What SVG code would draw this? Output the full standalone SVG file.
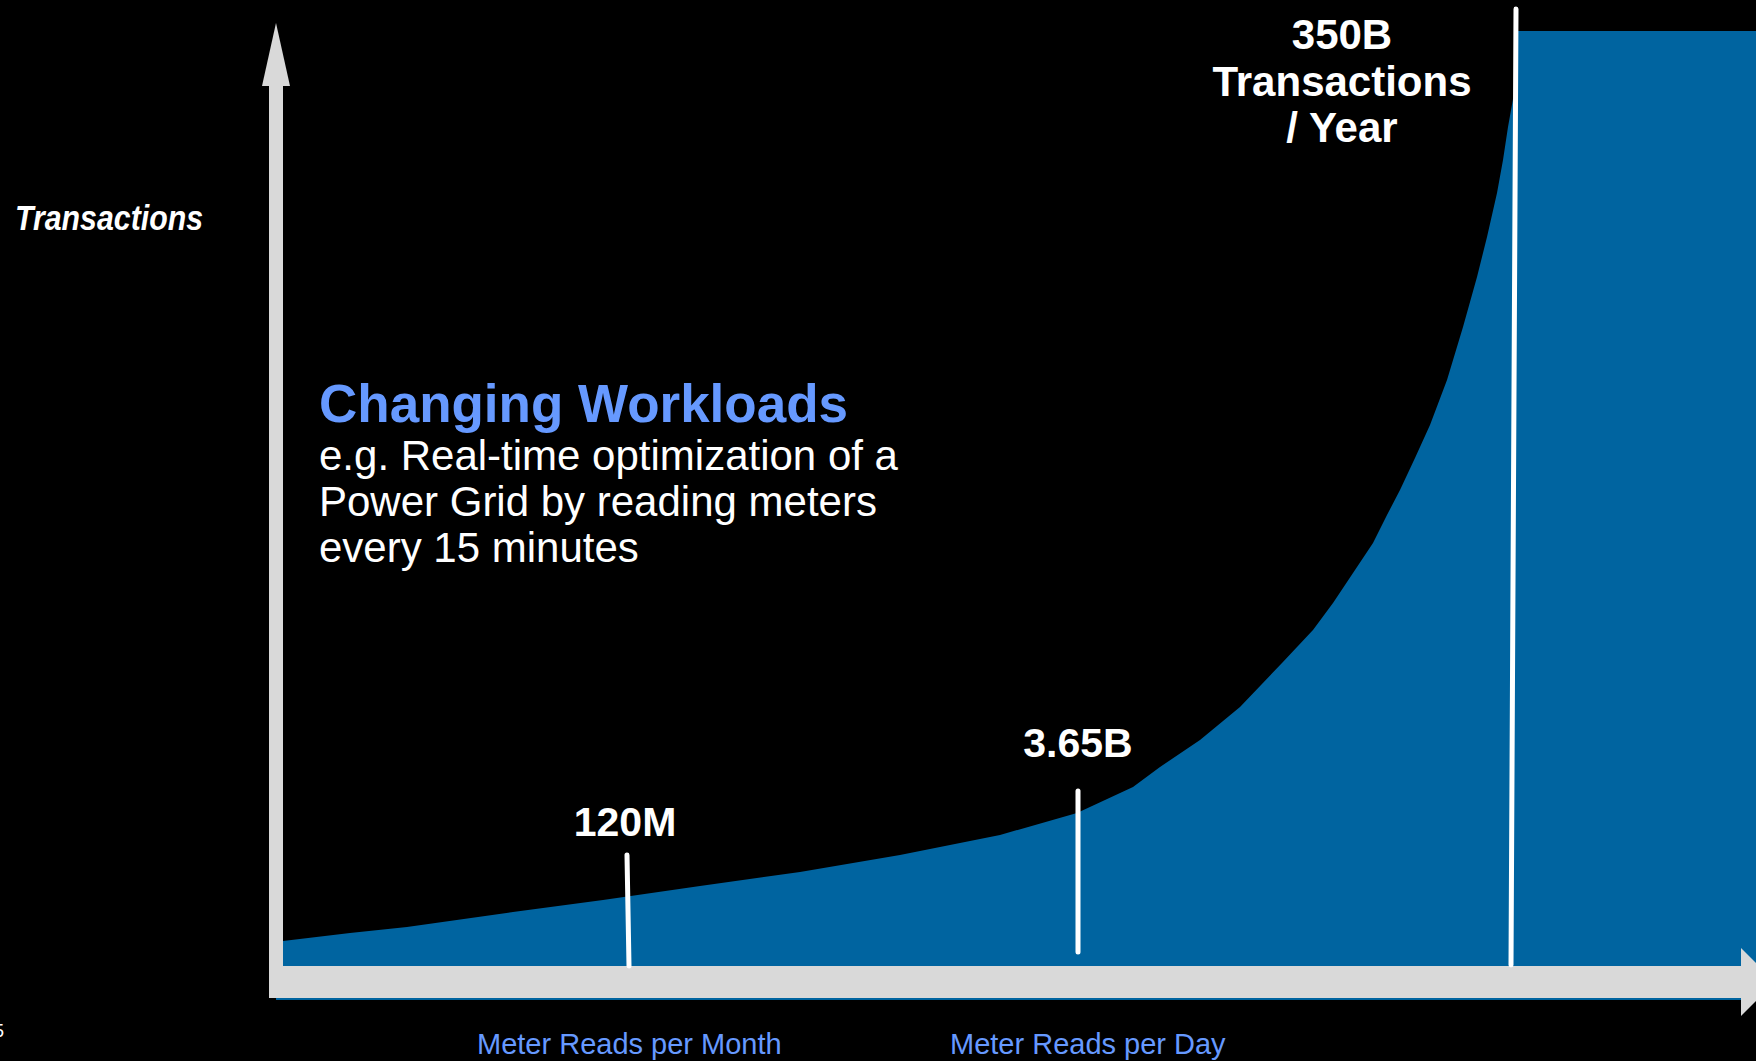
<svg xmlns="http://www.w3.org/2000/svg" width="1756" height="1061" viewBox="0 0 1756 1061">
<style>
.t{font-family:"Liberation Sans",Arial,Helvetica,sans-serif}
.w{fill:#ffffff}
.b{font-weight:bold}
.lb{fill:#6699ff}
.axis{fill:#d9d9d9}
.mark{stroke:#ffffff;stroke-width:5;stroke-linecap:round;fill:none}
</style>
<rect x="0" y="0" width="1756" height="1061" fill="#000000"/>
<g id="growth-area">
<path d="M276,1000 L276,941 L283,941 L350,933 L407,927 L513,912 L603,900 L700,886 L800,872 L900,855 L1000,835 L1077,813 L1133,787 L1160,767 L1200,740 L1240,707 L1282,663 L1313,630 L1333,603 L1353,573 L1373,543 L1387,515 L1400,490 L1415,458 L1430,425 L1447,380 L1463,327 L1477,277 L1487,237 L1497,193 L1503,160 L1508,127 L1513,99 L1518,99 L1518,31 L1756,31 L1756,1000 Z" fill="#0064a0"/>
</g>
<g id="axes">
<rect class="axis" x="269" y="966" width="1472" height="32"/>
<polygon class="axis" points="1741,948 1775,982 1741,1016"/>
<rect class="axis" x="269" y="85" width="14" height="913"/>
<polygon class="axis" points="276,23 290,86 262,86"/>
</g>
<g id="connectors">
<line class="mark" x1="627" y1="855" x2="629" y2="966"/>
<line class="mark" x1="1078" y1="791" x2="1078" y2="952"/>
<line class="mark" x1="1516" y1="9" x2="1511" y2="965"/>
</g>
<g id="y-label">
<text class="t w b" x="15" y="230" font-size="35" font-style="italic" textLength="188" lengthAdjust="spacingAndGlyphs">Transactions</text>
</g>
<g id="label-350b">
<text class="t w b" x="1342" y="49" font-size="42" text-anchor="middle">350B</text>
<text class="t w b" x="1342" y="96" font-size="42" text-anchor="middle">Transactions</text>
<text class="t w b" x="1342" y="142" font-size="42" text-anchor="middle">/ Year</text>
</g>
<g id="label-365b">
<text class="t w b" x="1078" y="757" font-size="41" text-anchor="middle">3.65B</text>
</g>
<g id="label-120m">
<text class="t w b" x="625" y="836" font-size="41" text-anchor="middle">120M</text>
</g>
<g id="description">
<text class="t lb b" x="319" y="422" font-size="53">Changing Workloads</text>
<text class="t w" x="319" y="470" font-size="42">e.g. Real-time optimization of a</text>
<text class="t w" x="319" y="516" font-size="42">Power Grid by reading meters</text>
<text class="t w" x="319" y="562" font-size="42">every 15 minutes</text>
</g>
<g id="x-labels">
<text class="t lb" x="477" y="1054" font-size="29">Meter Reads per Month</text>
<text class="t lb" x="950" y="1054" font-size="29">Meter Reads per Day</text>
</g>
<g id="page-number">
<text class="t w" x="4" y="1037" font-size="18" text-anchor="end">5</text>
</g>
</svg>
